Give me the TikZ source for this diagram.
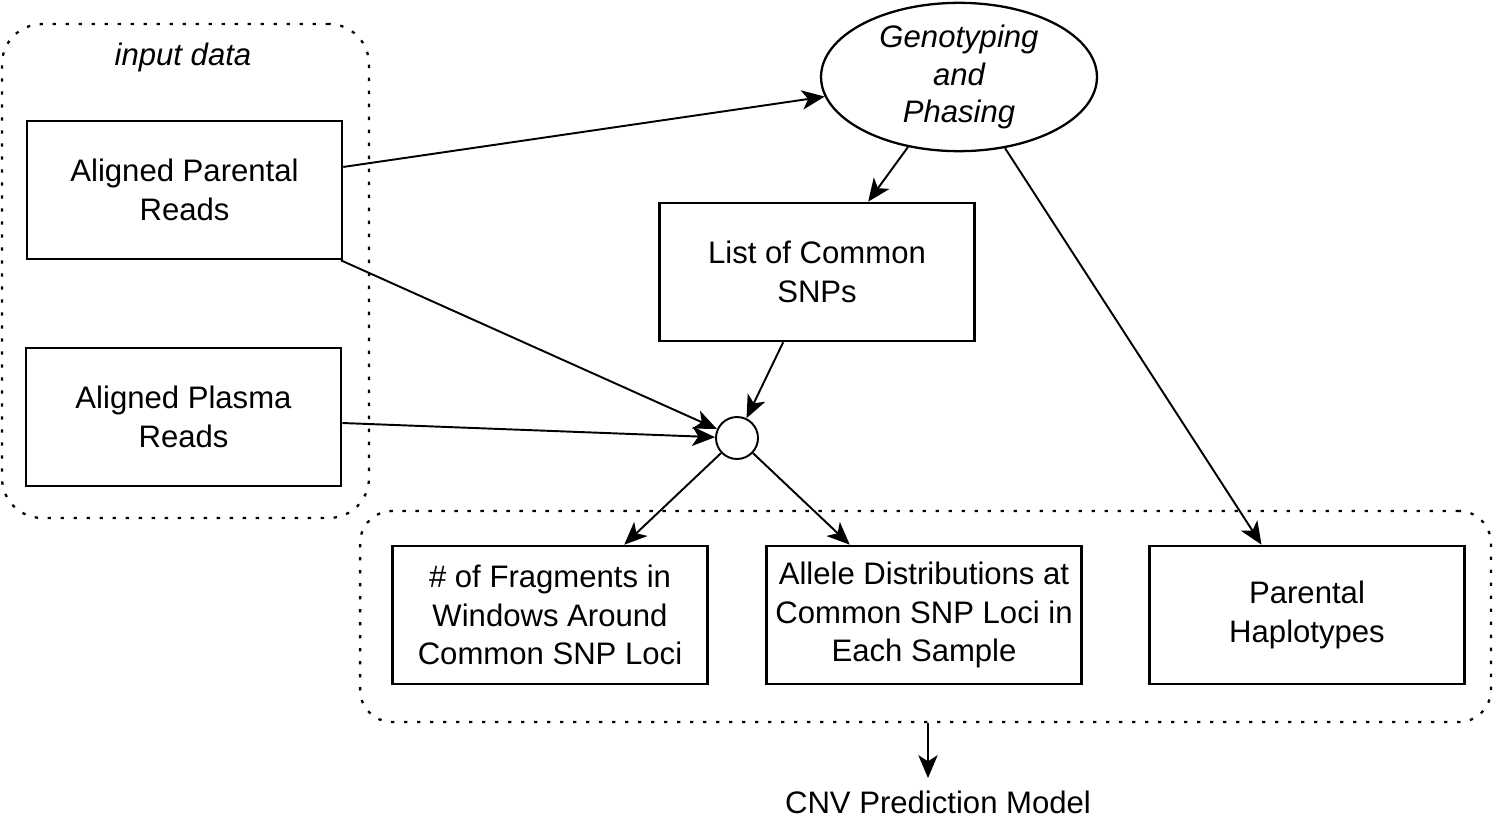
\documentclass[tikz,border=0pt]{standalone}
\usepackage{fontspec}
\setmainfont{Liberation Sans}
\usetikzlibrary{shapes.geometric,arrows.meta}
\tikzset{
  every node/.style={font=\fontsize{17.7pt}{22pt}\selectfont},
  stepbox/.style={draw, line width=1.5pt, align=center, minimum width=6.3cm, minimum height=2.76cm, inner sep=0pt},
  groupbox/.style={draw, line width=1.3pt, dash pattern=on 1.9pt off 5.5pt, rounded corners=#1, inner sep=0pt},
  link/.style={line width=1.1pt, -{Stealth[length=13pt,width=11pt,inset=3.5pt]}}
}
\begin{document}
\begin{tikzpicture}[x=0.02cm, y=-0.02cm]
  \useasboundingbox (0,0) rectangle (1494,818);
  \node[groupbox=0.8cm, minimum width=7.34cm, minimum height=9.88cm] (inputs) at (185.5,271) {};
  \node[groupbox=0.64cm, minimum width=22.62cm, minimum height=4.22cm] (outputs) at (925.5,616.5) {};
  \node (inputlabel) at (183,57) {\itshape input data};
  \node[stepbox] (parental) at (184.5,190) {Aligned Parental\\Reads};
  \node[stepbox] (plasma) at (183.5,417) {Aligned Plasma\\Reads};
  \node[ellipse, draw, line width=1.3pt, align=center, minimum width=5.52cm, minimum height=2.96cm, inner sep=0pt, font=\fontsize{17.7pt}{21.6pt}\selectfont\itshape] (genotyping) at (959,77) {Genotyping\\and\\Phasing};
  \node[stepbox] (snps) at (817,272) {List of Common\\SNPs};
  \node[circle, draw, line width=1.1pt, minimum size=0.84cm, inner sep=0pt] (merge) at (737,438) {};
  \node[stepbox] (fragments) at (550,615) {\# of Fragments in\\Windows Around\\Common SNP Loci};
  \node[stepbox] (alleles) at (924,615) {Allele Distributions at\\Common SNP Loci in\\Each Sample};
  \node[stepbox] (haplotypes) at (1307,615) {Parental\\Haplotypes};
  \node (cnv) at (938,802) {CNV Prediction Model};
  \draw[link] (parental) -- (genotyping);
  \draw[link] (genotyping) -- (snps);
  \draw[link] (genotyping) -- (haplotypes);
  \draw[link] (parental) -- (merge);
  \draw[link] (plasma) -- (merge);
  \draw[link] (snps) -- (merge);
  \draw[link] (merge) -- (fragments);
  \draw[link] (merge) -- (alleles);
  \draw[link] (outputs.south -| 928,0) -- (928,778);
\end{tikzpicture}
\end{document}
